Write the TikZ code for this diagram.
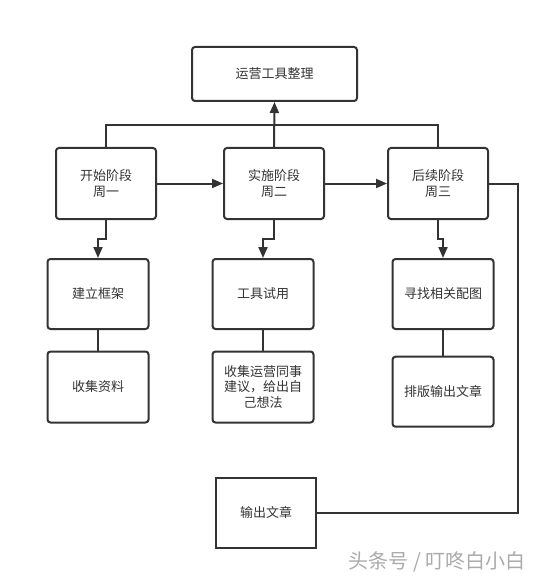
\documentclass[tikz,border=0pt]{standalone}
\usepackage{fontspec}
\setmainfont{Noto Sans CJK SC}
\usetikzlibrary{arrows.meta}
\definecolor{ln}{HTML}{333333}
\definecolor{wm}{HTML}{AAAAAA}
\tikzset{
  box/.style={draw=ln, line width=2pt, rounded corners=3pt, rectangle, align=center,
    font=\fontsize{13}{16}\selectfont, text=ln, inner sep=2pt},
  sqbox/.style={box, rounded corners=0pt},
  conn/.style={draw=ln, line width=2pt},
  arr/.style={conn, -{Triangle[length=11pt,width=9pt]}},
}
\begin{document}
\begin{tikzpicture}[x=1pt,y=-1pt]
\useasboundingbox (0,0) rectangle (550,580);
\node[box, minimum width=165pt, minimum height=54pt] (top) at (274.5,74) {运营工具整理};
\node[box, minimum width=100pt, minimum height=71pt] (A) at (106,183.5) {开始阶段\\周一};
\node[box, minimum width=100pt, minimum height=71pt] (B) at (274,183.5) {实施阶段\\周二};
\node[box, minimum width=100pt, minimum height=71pt] (C) at (438,183.5) {后续阶段\\周三};
\node[box, minimum width=101pt, minimum height=70pt] (D) at (98,294) {建立框架};
\node[box, minimum width=101pt, minimum height=70pt] (E) at (263,294) {工具试用};
\node[box, minimum width=101pt, minimum height=70pt] (F) at (443,294) {寻找相关配图};
\node[box, minimum width=101pt, minimum height=71pt] (G) at (98,387) {收集资料};
\node[box, minimum width=101pt, minimum height=71pt, font=\fontsize{13}{15.5}\selectfont] (H) at (263,387) {收集运营同事\\建议，给出自\\己想法};
\node[box, minimum width=101pt, minimum height=70pt] (I) at (443,391.7) {排版输出文章};
\node[sqbox, minimum width=100.6pt, minimum height=70pt] (O) at (266,512.7) {输出文章};
\node[font=\fontsize{20}{24}\selectfont, text=wm, anchor=center] (wmk) at (437,562) {头条号 / 叮咚白小白};
\coordinate (hj) at (0,125);
\coordinate (dj) at (0,239);
\coordinate (rj) at (518,0);
% top merge line
\draw[conn] (A.north) -- (A.north |- hj) -- (C.north |- hj) -- (C.north);
\draw[arr] (B.north) -- (top.south);
% horizontal flow
\draw[arr] (A.east) -- (B.west);
\draw[arr] (B.east) -- (C.west);
% down arrows
\draw[arr] (A.south) -- (A.south |- dj) -| (D.north);
\draw[arr] (B.south) -- (B.south |- dj) -| (E.north);
\draw[arr] (C.south) -- (C.south |- dj) -| (F.north);
% plain links
\draw[conn] (D.south) -- (G.north);
\draw[conn] (E.south) -- (H.north);
\draw[conn] (F.south) -- (I.north);
% to output
\draw[conn] (C.east) -- (C.east -| rj) |- (O.east);
\end{tikzpicture}
\end{document}
